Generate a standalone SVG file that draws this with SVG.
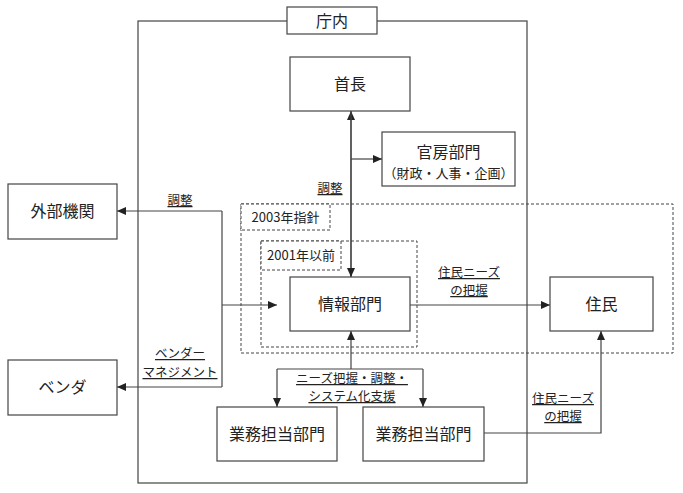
<svg xmlns="http://www.w3.org/2000/svg" width="683" height="493" viewBox="0 0 683 493">
<defs>
<marker id="ah" markerWidth="9" markerHeight="8" refX="9" refY="4" orient="auto" markerUnits="userSpaceOnUse">
<path d="M0,0 L9,4 L0,8 Z" fill="#222"/>
</marker>
<style>
text{font-family:"Noto Sans CJK JP","Noto Sans",sans-serif;fill:#222;text-anchor:middle}
.box{fill:#fff;stroke:#444;stroke-width:1.2}
.dash{fill:none;stroke:#444;stroke-width:1;stroke-dasharray:3,2}
.dbox{fill:#fff;stroke:#444;stroke-width:1;stroke-dasharray:3,2}
.ln{fill:none;stroke:#444;stroke-width:1.2}
.arr{fill:none;stroke:#444;stroke-width:1.2;marker-end:url(#ah)}
.n{font-size:16px}
.s{font-size:13px}
.l{font-size:12.5px;text-decoration:underline}
</style>
</defs>
<rect width="683" height="493" fill="#fff"/>
<g id="chounai">
<rect x="138" y="21" width="389" height="462" class="box" fill="none" style="fill:none"/>
<rect x="287" y="7" width="90" height="27" class="box"/>
<text x="332" y="27" class="n">庁内</text>
</g>
<g id="shishin2003">
<rect x="241" y="204" width="432" height="149" class="dash"/>
<rect x="241" y="204" width="89" height="26" class="dbox"/>
<text x="285.5" y="222" class="s">2003年指針</text>
</g>
<g id="izen2001">
<rect x="261" y="241" width="156" height="106" class="dash"/>
<rect x="261" y="241" width="80" height="29" class="dbox"/>
<text x="301" y="260" class="s">2001年以前</text>
</g>
<g id="connectors">
<line x1="351" y1="277" x2="351" y2="111" class="arr"/>
<line x1="351" y1="111" x2="351" y2="277" class="arr"/>
<line x1="351" y1="159" x2="382" y2="159" class="arr"/>
<line x1="410" y1="305" x2="550" y2="305" class="arr"/>
<polyline points="222,211 222,387" class="ln"/>
<polyline points="222,211 117,211" class="arr"/>
<polyline points="222,387 117,387" class="arr"/>
<polyline points="222,305 277,305" class="arr"/>
<line x1="351" y1="369" x2="351" y2="331" class="arr"/>
<polyline points="277,369 423,369" class="ln"/>
<polyline points="277,369 277,407" class="arr"/>
<polyline points="423,369 423,407" class="arr"/>
<polyline points="484,433 601,433 601,331" class="arr"/>
<text x="330" y="193" class="l">調整</text>
<text x="180" y="205" class="l">調整</text>
<text x="180" y="358" class="l">ベンダー</text>
<text x="180" y="377" class="l">マネジメント</text>
<text x="469" y="277" class="l">住民ニーズ</text>
<text x="469" y="295" class="l">の把握</text>
<text x="352" y="383" class="l">ニーズ把握・調整・</text>
<text x="352" y="401" class="l">システム化支援</text>
<text x="563" y="403" class="l">住民ニーズ</text>
<text x="563" y="421" class="l">の把握</text>
</g>
<g id="shucho">
<rect x="290" y="57" width="120" height="54" class="box"/>
<text x="350" y="90" class="n">首長</text>
</g>
<g id="kanbo">
<rect x="382" y="132" width="133" height="54" class="box"/>
<text x="448.5" y="158" class="n">官房部門</text>
<text x="448.5" y="178" class="s">（財政・人事・企画）</text>
</g>
<g id="joho">
<rect x="290" y="277" width="120" height="54" class="box"/>
<text x="350" y="310" class="n">情報部門</text>
</g>
<g id="jumin">
<rect x="550" y="277" width="103" height="54" class="box"/>
<text x="601.5" y="310" class="n">住民</text>
</g>
<g id="gaibu">
<rect x="8" y="184" width="109" height="55" class="box"/>
<text x="62.5" y="217" class="n">外部機関</text>
</g>
<g id="venda">
<rect x="8" y="360" width="109" height="55" class="box"/>
<text x="62.5" y="393" class="n">ベンダ</text>
</g>
<g id="gyomu1">
<rect x="217" y="407" width="120" height="54" class="box"/>
<text x="277" y="440" class="n">業務担当部門</text>
</g>
<g id="gyomu2">
<rect x="363" y="407" width="121" height="54" class="box"/>
<text x="423.5" y="440" class="n">業務担当部門</text>
</g>
</svg>
